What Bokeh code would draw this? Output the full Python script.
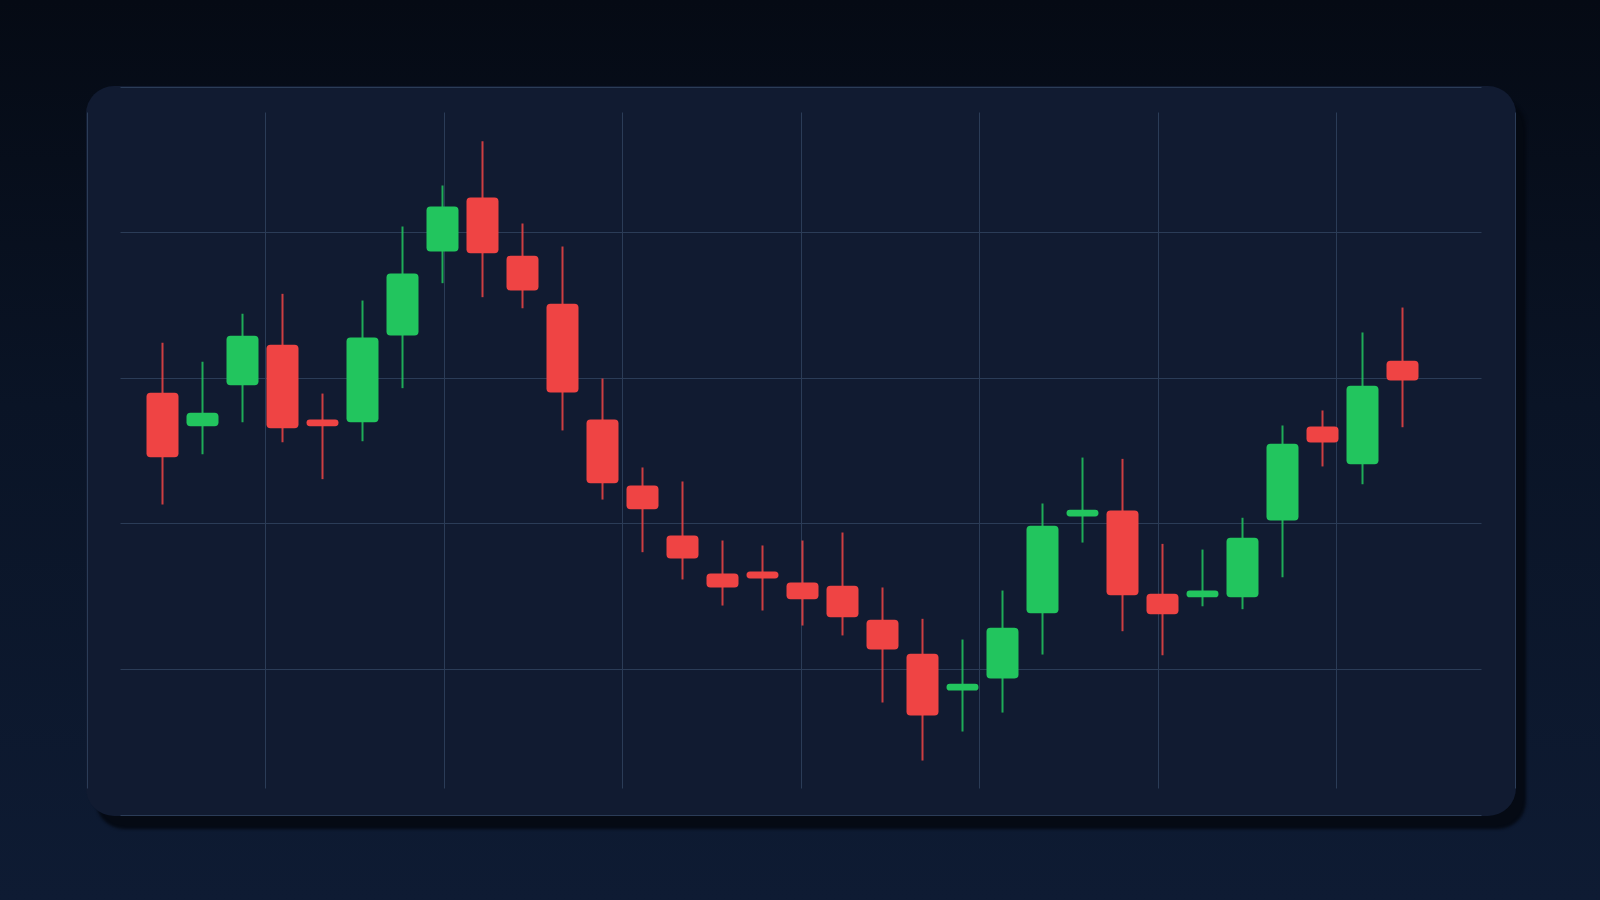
from bokeh.plotting import figure
from bokeh.models import ColumnDataSource, FixedTicker, Grid
from bokeh.layouts import column
from bokeh.embed import file_html
from bokeh.resources import INLINE

# ---- data ----
candle_index = list(range(32))
opens = [128.99, 126.70, 129.51, 132.28, 127.16, 126.98, 132.92, 138.68,
         142.39, 138.39, 135.10, 127.16, 122.63, 119.20, 116.60, 116.74,
         115.98, 115.75, 113.42, 111.09, 108.57, 109.40, 113.88, 120.51,
         120.92, 115.21, 114.97, 114.97, 120.23, 126.68, 124.09, 131.19]
highs = [132.42, 131.12, 134.41, 135.78, 128.94, 135.32, 140.40, 143.21,
         146.24, 140.60, 139.03, 129.97, 123.87, 122.91, 118.86, 118.52,
         118.86, 119.41, 115.64, 113.49, 112.07, 115.43, 121.40, 124.55,
         124.46, 118.63, 118.24, 120.42, 126.75, 127.78, 133.13, 134.84]
lows = [121.33, 124.78, 126.98, 125.60, 123.07, 125.67, 129.31, 136.51,
        135.55, 134.79, 126.41, 121.67, 118.06, 116.19, 114.40, 114.06,
        113.03, 112.35, 107.75, 103.77, 105.76, 107.06, 111.04, 118.72,
        112.64, 110.99, 114.35, 114.15, 116.34, 123.94, 122.72, 126.63]
closes = [124.57, 127.62, 132.90, 126.56, 126.70, 132.78, 137.17, 141.77,
          138.57, 136.01, 129.01, 122.79, 121.01, 117.63, 115.64, 116.26,
          114.84, 113.60, 111.39, 106.86, 109.03, 112.87, 119.87, 120.97,
          115.11, 113.81, 115.43, 119.05, 125.49, 125.58, 129.47, 129.84]

# ---- styling / layout constants ----
UP = "#22c55e"
DOWN = "#ef4444"
CARD = "#111b31"
GRID = "#2b3c57"
CARD_W, CARD_H = 1430, 730
PX_PER_CANDLE = 40.0
X0 = -1.9
X1 = X0 + CARD_W / PX_PER_CANDLE
Y1 = 150.0
Y0 = Y1 - CARD_H * 50.0 / 729
ux = (X1 - X0) / CARD_W
uy = (Y1 - Y0) / CARD_H

tops = [max(o, c) for o, c in zip(opens, closes)]
bottoms = [min(o, c) for o, c in zip(opens, closes)]
colors = [UP if c >= o else DOWN for o, c in zip(opens, closes)]

src = ColumnDataSource(dict(x=candle_index, high=highs, low=lows,
                            top=tops, bottom=bottoms, color=colors))

p = figure(width=CARD_W, height=CARD_H, x_range=(X0, X1), y_range=(Y0, Y1),
           x_axis_type=None, y_axis_type=None,
           output_backend="svg", toolbar_location=None,
           min_border=0, outline_line_color=None,
           background_fill_alpha=0, border_fill_alpha=0)

# grid divides the card into 8 columns and 5 rows (edge lines included)
xticks = [X0 + ux * (0.5 + k * 1428 / 8) for k in range(9)]
yticks = [Y1 - uy * (0.5 + k * 728 / 5) for k in range(6)]

xg = Grid(dimension=0, ticker=FixedTicker(ticks=xticks),
          cross_bounds=(Y1 - 702 * uy, Y1 - 26 * uy),
          grid_line_color=GRID, grid_line_width=1)
yg = Grid(dimension=1, ticker=FixedTicker(ticks=yticks),
          cross_bounds=(X0 + 34 * ux, X0 + 1395 * ux),
          grid_line_color=GRID, grid_line_width=1)
p.add_layout(xg, "center")
p.add_layout(yg, "center")

p.segment(x0="x", y0="low", x1="x", y1="high", source=src,
          line_color="color", line_width=2, line_alpha=0.85)
p.vbar(x="x", width=0.8, top="top", bottom="bottom", source=src,
       fill_color="color", line_color=None, border_radius=4)

p.margin = (86, 0, 0, 86)
p.styles = {"background-color": CARD, "border-radius": "28px",
            "overflow": "hidden",
            "box-shadow": "10px 13px 3px rgba(4, 9, 18, 0.9)"}

page = column(p, width=1600, height=900,
              styles={"position": "fixed", "left": "0px", "top": "0px",
                      "background": "linear-gradient(180deg, #050a14 0%, #0a1426 45%, #0e1b33 100%)"})

open("out.html", "w").write(file_html(page, INLINE))
